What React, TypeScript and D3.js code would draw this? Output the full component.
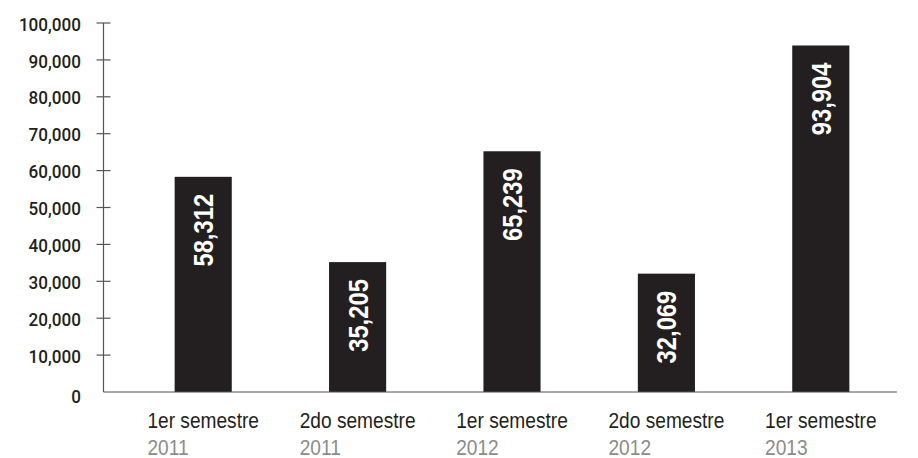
import React, { useEffect, useRef } from "react";
import * as d3 from "d3";

const categories = ["1er semestre", "2do semestre", "1er semestre", "2do semestre", "1er semestre"];
const years = ["2011", "2011", "2012", "2012", "2013"];
const values = [58312, 35205, 65239, 32069, 93904];
const yTicks = [0, 10000, 20000, 30000, 40000, 50000, 60000, 70000, 80000, 90000, 100000];

const W = 918;
const H = 458;
const INK = "#231f20";

export default function App() {
  const ref = useRef<SVGSVGElement | null>(null);

  useEffect(() => {
    document.body.style.margin = "0";
    document.body.style.overflow = "hidden";
    const svg = d3.select(ref.current);
    svg.selectAll("*").remove();

    const axisX = 103.5;
    const x = d3
      .scaleBand<number>()
      .domain(d3.range(values.length))
      .range([126, 898])
      .paddingInner(0.63)
      .paddingOuter(0.315);
    const y = d3.scaleLinear().domain([0, 100000]).range([392, 23]);
    const fmt = d3.format(",");

    // bars
    svg
      .append("g")
      .selectAll("rect")
      .data(values)
      .join("rect")
      .attr("x", (_, i) => x(i)!)
      .attr("width", x.bandwidth())
      .attr("y", (d) => y(d))
      .attr("height", (d) => y(0) - y(d))
      .attr("fill", INK);

    // value labels
    svg
      .append("g")
      .selectAll("text")
      .data(values)
      .join("text")
      .attr(
        "transform",
        (d, i) => `translate(${x(i)! + x.bandwidth() / 2 + 10},${y(d) + 17}) rotate(-90) scale(0.85,1)`
      )
      .attr("text-anchor", "end")
      .attr("fill", "#ffffff")
      .attr("font-family", "'Liberation Sans', Arial, sans-serif")
      .attr("font-weight", "bold")
      .attr("font-size", 28)
      .text((d) => fmt(d));

    // y axis
    const ax = svg.append("g");
    ax.append("line")
      .attr("x1", axisX)
      .attr("x2", axisX)
      .attr("y1", y(100000))
      .attr("y2", y(0))
      .attr("stroke", "#555")
      .attr("stroke-width", 1.2);
    ax.selectAll("line.tick")
      .data(yTicks.filter((t) => t > 0))
      .join("line")
      .attr("class", "tick")
      .attr("x1", axisX - 7)
      .attr("x2", axisX + 7)
      .attr("y1", (d) => y(d))
      .attr("y2", (d) => y(d))
      .attr("stroke", "#555")
      .attr("stroke-width", 1.2);
    ax.selectAll("text")
      .data(yTicks)
      .join("text")
      .attr("transform", (d) => `translate(81,${y(d) + (d === 0 ? 4 : 1)}) scale(0.9,1)`)
      .attr("dy", "0.35em")
      .attr("text-anchor", "end")
      .attr("fill", INK)
      .attr("font-family", "Roboto, 'Liberation Sans', sans-serif")
      .attr("font-weight", 500)
      .attr("font-size", 19)
      .text((d) => fmt(d));

    // x baseline
    svg
      .append("line")
      .attr("x1", axisX)
      .attr("x2", 897)
      .attr("y1", y(0))
      .attr("y2", y(0))
      .attr("stroke", "#555")
      .attr("stroke-width", 1.2);

    // category labels
    categories.forEach((c, i) => {
      const cx = x(i)! + x.bandwidth() / 2;
      const g = svg.append("g").attr("transform", `translate(${cx},0) scale(0.85,1)`);
      const t1 = g
        .append("text")
        .attr("x", 0)
        .attr("y", 428)
        .attr("text-anchor", "middle")
        .attr("fill", INK)
        .attr("font-family", "'Liberation Sans', Arial, sans-serif")
        .attr("font-size", 22.5)
        .text(c);
      const bb = (t1.node() as SVGTextElement).getBBox();
      g.append("text")
        .attr("x", bb.x)
        .attr("y", 455)
        .attr("text-anchor", "start")
        .attr("fill", "#8c8c8c")
        .attr("font-family", "'Liberation Sans', Arial, sans-serif")
        .attr("font-size", 22.5)
        .text(years[i]);
    });
  }, []);

  return (
    <div style={{ position: "absolute", left: 0, top: 0, width: W, height: H, overflow: "hidden" }}>
      <svg ref={ref} width={W} height={H} style={{ display: "block", background: "#fff" }} />
    </div>
  );
}
